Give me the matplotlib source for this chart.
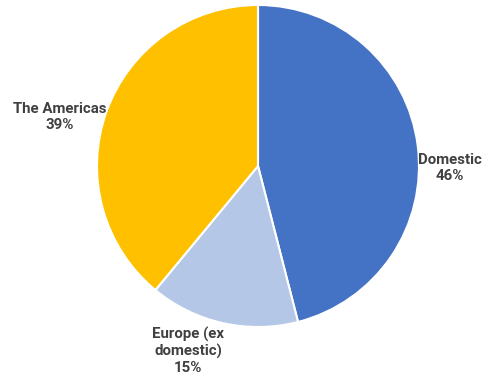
import matplotlib
matplotlib.use("Agg")
import matplotlib.pyplot as plt

labels = ["Domestic", "Europe (ex\ndomestic)", "The Americas"]
shares = [46, 15, 39]
colors = ["#4472C4", "#B4C7E7", "#FFC000"]

# label anchor spots in figure fraction (layout only)
label_pos = [(0.918, 0.559), (0.384, 0.079), (0.122, 0.693)]

plt.rcParams['font.family'] = ['Roboto', 'DejaVu Sans']

fig = plt.figure(figsize=(4.9, 3.81), dpi=100)
ax = fig.add_axes([97 / 490, 54 / 381, 322 / 490, 322 / 381])
ax.pie(shares, colors=colors, startangle=90, counterclock=False,
       wedgeprops=dict(edgecolor="white", linewidth=1.5))
ax.set_xlim(-1, 1)
ax.set_ylim(-1, 1)
ax.set_aspect("equal")
ax.axis("off")

for lab, val, (x, y) in zip(labels, shares, label_pos):
    fig.text(x, y, f"{lab}\n{val}%", ha="center", va="center",
             fontsize=10.8, fontweight="bold", color="#404040", linespacing=1.15)

fig.savefig("out.png", dpi=100)
